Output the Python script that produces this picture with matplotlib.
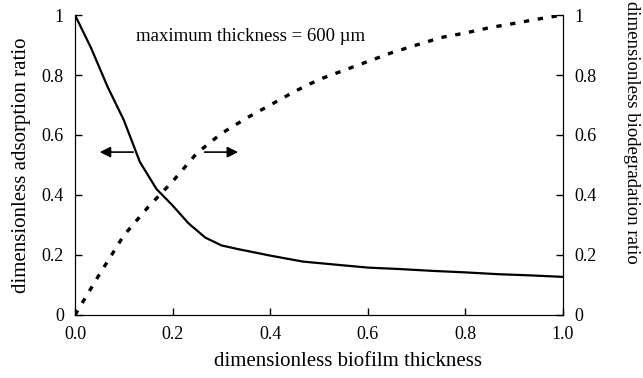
import numpy as np
from matplotlib import pyplot as plt

plt.rcParams['font.family'] = ['Liberation Serif', 'DejaVu Serif']

# Datos
espesor_ads = [0.0, 0.033, 0.067, 0.10, 0.133, 0.167, 0.20, 0.233, 0.267, 0.30,
               0.333, 0.40, 0.467, 0.533, 0.60, 0.667, 0.733, 0.80, 0.867, 0.933, 1.0]
adsorcion = [1.0, 0.89, 0.76, 0.65, 0.51, 0.42, 0.365, 0.305, 0.258, 0.232,
             0.22, 0.198, 0.178, 0.168, 0.158, 0.153, 0.147, 0.142, 0.136, 0.132, 0.127]

espesor_bio = [0.0, 0.05, 0.10, 0.15, 0.20, 0.25, 0.30, 0.35, 0.40, 0.45, 0.50,
               0.55, 0.60, 0.65, 0.70, 0.75, 0.80, 0.85, 0.90, 0.95, 1.0]
biodegradacion = [0.0, 0.135, 0.265, 0.36, 0.445, 0.54, 0.605, 0.655, 0.70, 0.745, 0.785,
                  0.815, 0.845, 0.875, 0.90, 0.925, 0.94, 0.958, 0.972, 0.987, 1.0]

x_ticks = [0.0, 0.2, 0.4, 0.6, 0.8, 1.0]
x_labels = ['0.0', '0.2', '0.4', '0.6', '0.8', '1.0']
y_ticks = [0, 0.2, 0.4, 0.6, 0.8, 1]
y_labels = ['0', '0.2', '0.4', '0.6', '0.8', '1']

fig = plt.figure(figsize=(6.43, 3.78), dpi=100)
ax = fig.add_axes([0.1166, 0.1667, 0.7590, 0.7936])
ax2 = ax.twinx()

ax.plot(espesor_ads, adsorcion, color='black', lw=1.6)
ax2.plot(espesor_bio, biodegradacion, color='black', lw=2.4, linestyle=(0, (1.6, 2.6)))

for a in (ax, ax2):
    a.set_xlim(0, 1)
    a.set_ylim(0, 1)
    a.spines['top'].set_visible(False)
    a.tick_params(direction='in', length=5, width=1, labelsize=13, pad=8)

ax.set_xticks(x_ticks)
ax.set_xticklabels(x_labels)
ax.set_yticks(y_ticks)
ax.set_yticklabels(y_labels)
ax2.set_yticks(y_ticks)
ax2.set_yticklabels(y_labels)

ax.set_xlabel('dimensionless biofilm thickness', fontsize=15, labelpad=7)
ax.xaxis.set_label_coords(0.56, -0.125)
ax.set_ylabel('dimensionless adsorption ratio', fontsize=15, labelpad=8)
ax2.set_ylabel('dimensionless biodegradation ratio', fontsize=13.5, rotation=270,
               va='center')
ax2.yaxis.set_label_coords(1.14, 0.61)

# Flechas
ax.annotate('', xy=(0.045, 0.543), xytext=(0.125, 0.543),
            arrowprops=dict(arrowstyle='-|>', color='black', lw=1.2, mutation_scale=16))
ax.annotate('', xy=(0.34, 0.543), xytext=(0.26, 0.543),
            arrowprops=dict(arrowstyle='-|>', color='black', lw=1.2, mutation_scale=16))

ax.text(0.36, 0.927, 'maximum thickness = 600 µm', fontsize=13.5, ha='center', va='center')

fig.savefig('out.png', dpi=100)
